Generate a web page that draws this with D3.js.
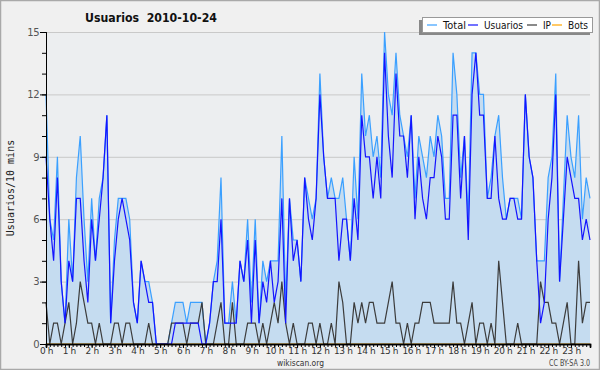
<!DOCTYPE html>
<html>
<head>
<meta charset="utf-8">
<script src="https://cdn.jsdelivr.net/npm/d3@7"></script>
<style>
  body { margin: 0; background: #fff; }
  svg { display: block; font-family: "DejaVu Sans", sans-serif; }
</style>
</head>
<body>
<svg id="chart" width="600" height="370"></svg>
<script>
// 10-minute slots, 2010-10-24 (144 per day)
const total = [12,6,5,9,3,1,6,3,8,10,6,3,7,4,7,8,11,1,5,7,7,7,6,2,1,4,3,3,2,0,
  0,0,0,1,2,2,2,1,2,2,2,2,0,1,3,4,8,1,1,3,1,4,3,6,2,6,1,4,3,4,
  4,4,10,2,7,5,5,3,8,7,6,7,13,9,7,8,7,7,8,6,4,9,6,13,10,11,9,10,8,15,
  12,11,14,11,10,9,11,7,10,9,8,10,9,11,10,7,7,14,12,8,10,6,14,14,12,12,7,8,10,11,
  8,6,7,7,7,6,12,9,8,4,4,4,8,9,13,3,7,11,9,8,11,6,8,7]
const usuarios = [9,6,4,8,3,1,4,3,7,7,4,2,6,4,6,8,11,1,4,6,7,6,5,2,1,4,3,2,2,0,
  0,0,0,0,1,1,1,1,1,1,1,0,0,1,3,3,6,1,1,1,1,4,3,5,1,5,1,3,2,4,
  2,3,7,1,7,4,5,3,8,6,5,7,12,9,7,7,7,4,6,6,4,7,5,11,9,9,7,9,7,14,
  10,8,13,10,10,8,11,6,9,7,6,8,8,10,9,6,6,11,11,7,10,5,12,14,11,11,7,7,10,7,
  6,6,7,7,6,6,12,9,8,4,1,2,6,8,12,3,6,9,8,7,7,5,6,5]
const ip = [2,0,1,1,0,1,2,0,1,3,2,1,1,0,1,0,0,0,1,1,0,1,1,0,0,0,0,1,0,0,
  0,0,0,1,1,1,1,0,1,1,1,2,0,0,0,1,2,0,0,2,0,0,0,1,1,1,0,1,0,1,
  2,1,3,1,0,1,0,0,0,1,1,0,1,0,0,1,0,3,2,0,0,2,1,2,1,2,2,1,1,1,
  2,3,1,1,0,1,0,1,1,2,2,2,1,1,1,1,1,3,1,1,0,1,2,0,1,1,0,1,0,4,
  2,0,0,0,1,0,0,0,0,0,3,2,2,1,1,0,1,2,0,0,4,1,2,2]
const bots = total.map(() => 0)

const hours = d3.range(24)
const yTicks = [0, 3, 6, 9, 12, 15]
const legendItems = [
  { name: "Total", color: "#3ba0ff", x: 427, w: 23 },
  { name: "Usuarios", color: "#1414ff", x: 468, w: 39 },
  { name: "IP", color: "#3c3c3c", x: 527, w: 8 },
  { name: "Bots", color: "#ffa500", x: 552, w: 20 }
]

const svg = d3.select("#chart")
const m = { left: 46, right: 590, top: 32, bottom: 344 }

// background + frame
svg.append("rect").attr("x", 0.5).attr("y", 0.5).attr("width", 599).attr("height", 369)
  .attr("fill", "#f0f0f0").attr("stroke", "#a9a9a9").attr("stroke-width", 1.5)
svg.append("rect").attr("x", m.left).attr("y", m.top).attr("width", m.right - m.left).attr("height", m.bottom - m.top)
  .attr("fill", "#eceef0")

const x = d3.scaleLinear().domain([0, total.length - 1]).range([m.left, m.right])
const y = d3.scaleLinear().domain([0, 15]).range([m.bottom, m.top])

// grid
svg.append("g").selectAll("line").data(yTicks.filter(d => d > 0)).join("line")
  .attr("x1", m.left).attr("x2", m.right)
  .attr("y1", d => y(d) + 0.5).attr("y2", d => y(d) + 0.5)
  .attr("stroke", "#c9c9c9").attr("stroke-width", 1)

// area of total
const idx = d3.range(total.length)
svg.append("path").datum(idx)
  .attr("fill", "#c5dcf0")
  .attr("d", d3.area().x(i => x(i)).y0(y(0)).y1(i => y(total[i])))

const line = arr => d3.line().x(i => x(i)).y(i => y(arr[i]))
const series = [[total, legendItems[0].color], [bots, legendItems[3].color], [ip, legendItems[2].color], [usuarios, legendItems[1].color]]
series.forEach(([arr, c]) => {
  svg.append("path").datum(idx)
    .attr("fill", "none").attr("stroke", c).attr("stroke-width", 1.2)
    .attr("d", line(arr))
})

// y axis
const yAxis = svg.append("g").attr("transform", `translate(${m.left},0)`)
yAxis.call(d3.axisLeft(y).tickValues(d3.range(0, 16)).tickSize(4).tickFormat(""))
yAxis.append("g").call(d3.axisLeft(y).tickValues(yTicks).tickSize(6).tickPadding(1).tickFormat(d3.format("d")))
yAxis.selectAll("path").attr("stroke", "#000")
yAxis.selectAll(".tick line").attr("stroke", "#000")
yAxis.selectAll("text").attr("fill", "#555").attr("font-size", 10)
  .attr("font-family", "DejaVu Sans, sans-serif").attr("letter-spacing", -0.5)

// x axis
const xAxis = svg.append("g").attr("transform", `translate(0,${m.bottom})`)
xAxis.call(d3.axisBottom(x).tickValues(idx).tickSize(3).tickFormat(""))
xAxis.append("g").call(d3.axisBottom(x).tickValues(hours.map(h => h * 6)).tickSize(4).tickPadding(0)
  .tickFormat(d => (d / 6) + " h"))
xAxis.selectAll("path").attr("stroke", "#000").attr("stroke-width", 1.5)
xAxis.selectAll(".tick line").attr("stroke", "#000")
xAxis.selectAll("text").attr("fill", "#333").attr("font-size", 9)
  .attr("font-family", "DejaVu Sans, sans-serif").attr("letter-spacing", -0.4)

// titles
svg.append("text").attr("x", 85).attr("y", 22)
  .attr("font-size", 13).attr("font-weight", "bold").attr("fill", "#111")
  .attr("textLength", 132).attr("lengthAdjust", "spacingAndGlyphs")
  .attr("xml:space", "preserve").text("Usuarios  2010-10-24")
svg.append("text").attr("transform", "translate(14,188) rotate(-90)").attr("text-anchor", "middle")
  .attr("font-family", "DejaVu Sans Mono, monospace").attr("font-size", 10).attr("fill", "#222")
  .text("Usuarios/10 mins")
svg.append("text").attr("x", 277).attr("y", 365.5)
  .attr("font-size", 9.5).attr("fill", "#333")
  .attr("textLength", 47).attr("lengthAdjust", "spacingAndGlyphs").text("wikiscan.org")
svg.append("text").attr("x", 549).attr("y", 366)
  .attr("font-size", 8).attr("fill", "#444")
  .attr("textLength", 41).attr("lengthAdjust", "spacingAndGlyphs").text("CC BY-SA 3.0")

// legend
const lg = svg.append("g")
lg.append("rect").attr("x", 419).attr("y", 20).attr("width", 171).attr("height", 15).attr("fill", "#888")
lg.append("rect").attr("x", 422.5).attr("y", 17.5).attr("width", 170).attr("height", 15)
  .attr("fill", "#fff").attr("stroke", "#999")
legendItems.forEach(d => {
  lg.append("line").attr("x1", d.x).attr("x2", d.x + 10).attr("y1", 25).attr("y2", 25)
    .attr("stroke", d.color).attr("stroke-width", 1.2)
  lg.append("text").attr("x", d.name === "Total" ? d.x + 16 : d.x + 16).attr("y", 29)
    .attr("font-size", 11).attr("fill", "#111")
    .attr("textLength", d.w).attr("lengthAdjust", "spacingAndGlyphs").text(d.name)
})
</script>
</body>
</html>
